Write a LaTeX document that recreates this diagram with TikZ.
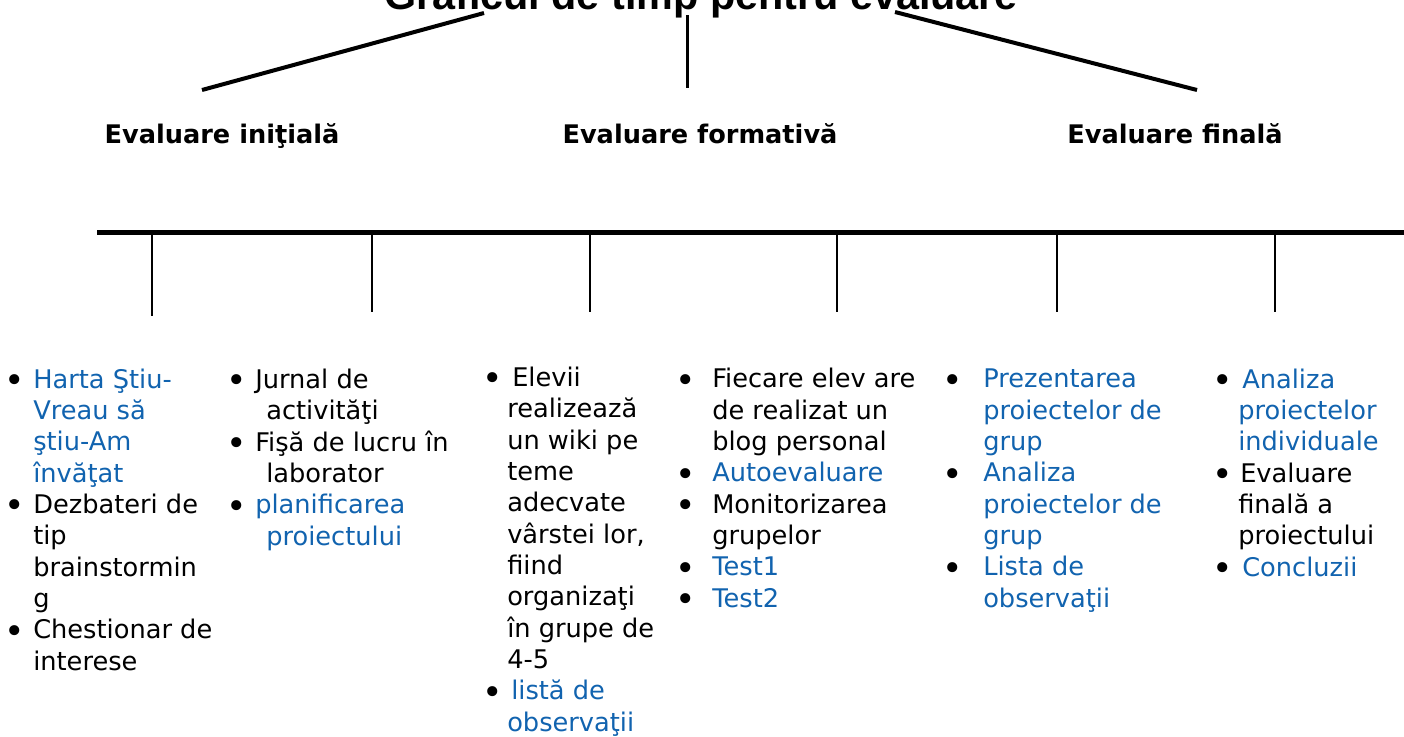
\documentclass[tikz,border=0pt]{standalone}
\usepackage{fontspec}
\setmainfont{DejaVu Sans}
\newfontfamily\titlefont{Liberation Sans}
\usetikzlibrary{positioning}
\definecolor{link_blue}{RGB}{17, 99, 175}
\tikzstyle{titlu}=[font=\titlefont\bfseries\fontsize{31}{31}\selectfont,
  inner sep=0pt,anchor=base]
\tikzstyle{antet}=[font=\bfseries\fontsize{19.2}{19.2}\selectfont,
  inner sep=0pt,anchor=base]
% anchored at the baseline of the last line
\tikzstyle{coloana}=[font=\fontsize{19.25}{23.5}\selectfont,
  inner sep=0pt,anchor=base west,align=left]
\tikzstyle{ramura}=[line width=3pt]
\tikzstyle{axa}=[line width=3.75pt]
\tikzstyle{reper}=[line width=1.5pt]
\tikzstyle{none}=[]
\newcommand{\bl}[1]{\llap{\raisebox{-0.18em}{\scalebox{1.35}{\textbullet}}\hspace*{#1}}}
\newcommand{\lk}[1]{\textcolor{link_blue}{#1}}

\begin{document}
\begin{tikzpicture}[x=0.75pt,y=-0.75pt]
		\useasboundingbox (0,0) rectangle (1404,736);
		\node [style=titlu] (titlu) at (701, 9) {Graficul de timp pentru evaluare};
		\coordinate (s0) at (484, 13);
		\coordinate (s1) at (202, 90);
		\coordinate (c0) at (687, 15);
		\coordinate (c1) at (687, 88);
		\coordinate (d0) at (895, 12);
		\coordinate (d1) at (1197, 90);
		\draw [style=ramura] (s0) to (s1);
		\draw [style=ramura, line width=2.25pt] (c0) to (c1);
		\draw [style=ramura] (d0) to (d1);
		\node [style=antet] (initiala) at (222, 143) {Evaluare iniţială};
		\node [style=antet] (formativa) at (700, 143) {Evaluare formativă};
		\node [style=antet] (finala) at (1175, 143) {Evaluare finală};
		\coordinate (a0) at (97, 232);
		\coordinate (a1) at (1410, 232);
		\draw [style=axa] (a0) to (a1);
		\foreach \i/\x/\y in {1/152/316, 2/372/312, 3/590/312, 4/837/312, 5/1057/312, 6/1275/312} {
			\coordinate (t\i) at (\x, 232);
			\coordinate (b\i) at (\x, \y);
			\draw [style=reper] (t\i) to (b\i);
		}
		\node [style=coloana] (col1) at (33, 670) {%
			\bl{6.25pt}\lk{Harta Ştiu-}\\
			\lk{Vreau să}\\
			\lk{ştiu-Am}\\
			\lk{învăţat}\\
			\bl{6.25pt}Dezbateri de\\
			tip\\
			brainstormin\\
			g\\
			\bl{6.25pt}Chestionar de\\
			interese};
		\node [style=coloana] (col2) at (255, 545) {%
			\bl{6.25pt}Jurnal de\\
			\hspace*{8.25pt}activităţi\\
			\bl{6.25pt}Fişă de lucru în\\
			\hspace*{8.25pt}laborator\\
			\bl{6.25pt}\lk{planificarea}\\
			\hspace*{8.25pt}\lk{proiectului}};
		\node [style=coloana] (col3) at (507, 731) {%
			\bl{3.25pt}\hspace*{3.75pt}Elevii\\
			realizează\\
			un wiki pe\\
			teme\\
			adecvate\\
			vârstei lor,\\
			fiind\\
			organizaţi\\
			în grupe de\\
			4-5\\
			\bl{3.25pt}\hspace*{3pt}\lk{listă de}\\
			\lk{observaţii}};
		\node [style=coloana] (col4) at (712, 607) {%
			\bl{12.25pt}Fiecare elev are\\
			de realizat un\\
			blog personal\\
			\bl{12.25pt}\lk{Autoevaluare}\\
			\bl{12.25pt}Monitorizarea\\
			grupelor\\
			\bl{12.25pt}\lk{Test1}\\
			\bl{12.25pt}\lk{Test2}};
		\node [style=coloana] (col5) at (983, 607) {%
			\bl{15.25pt}\lk{Prezentarea}\\
			\lk{proiectelor de}\\
			\lk{grup}\\
			\bl{15.25pt}\lk{Analiza}\\
			\lk{proiectelor de}\\
			\lk{grup}\\
			\bl{15.25pt}\lk{Lista de}\\
			\lk{observaţii}};
		\node [style=coloana] (col6) at (1238, 576) {%
			\bl{4pt}\hspace*{3pt}\lk{Analiza}\\
			\lk{proiectelor}\\
			\lk{individuale}\\
			\bl{4pt}\hspace*{1.5pt}Evaluare\\
			finală a\\
			proiectului\\
			\bl{4pt}\hspace*{3pt}\lk{Concluzii}};
\end{tikzpicture}
\end{document}
